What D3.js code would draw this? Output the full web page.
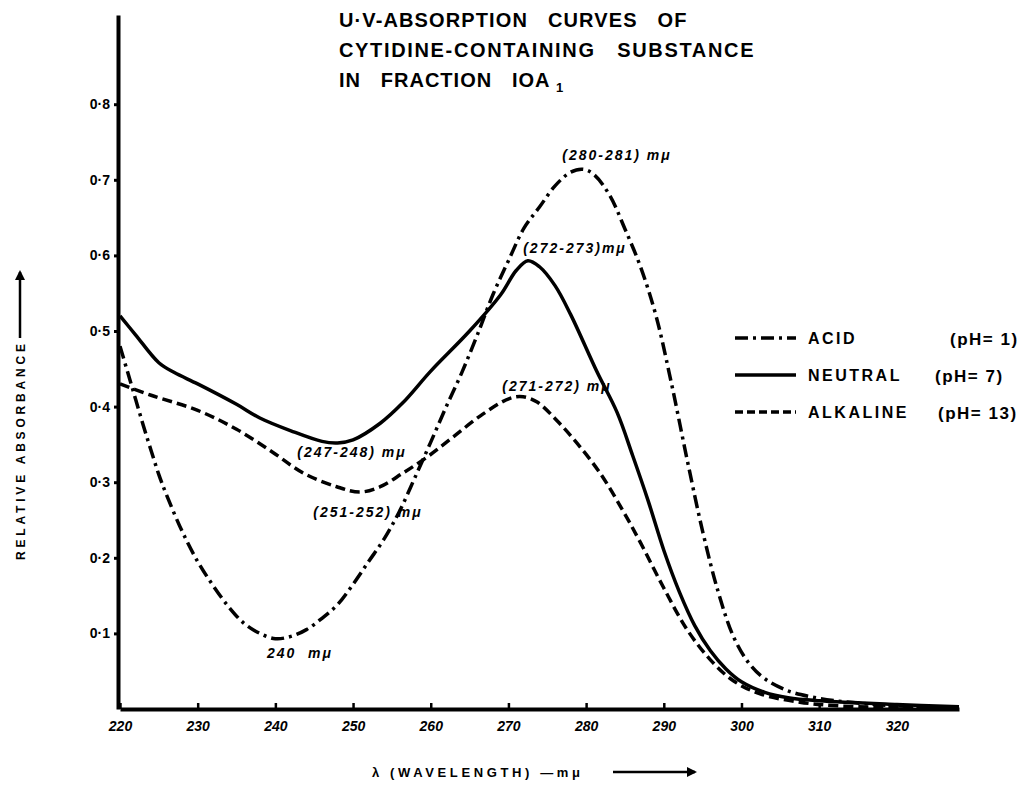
<!DOCTYPE html>
<html lang="en">

<head>
  <meta charset="utf-8">
  <title>U-V Absorption Curves of Cytidine-Containing Substance</title>
  <script src="https://d3js.org/d3.v7.min.js"></script>
  <style>
    body {
      margin: 0;
      background: #fff;
    }

    svg text {
      font-family: "Liberation Sans", Arial, sans-serif;
      fill: #000;
      white-space: pre;
    }

    .curve {
      fill: none;
      stroke: #000;
      stroke-width: 3.5px;
      stroke-linejoin: round;
    }

    .axis path,
    .axis line {
      stroke: #000;
    }

    .note {
      font-style: italic;
      font-weight: bold;
      font-size: 14px;
    }
  </style>
</head>

<body>
  <svg width="1023" height="795"></svg>

  <script>
    // wavelength (m-mu) and relative absorbance
    var acidWl = [220, 221, 222, 223, 224, 225, 226, 228, 230, 232, 234, 236, 238, 240, 242, 244, 246, 248, 250, 252,
      254, 256, 258, 260, 262, 264, 266, 268, 270, 272, 274, 276, 278, 279.6, 281, 283, 285, 287, 289, 291, 293, 295,
      297, 299, 301, 303, 306, 309, 312, 316, 320, 328];
    var acidAbs = [0.48, 0.445, 0.41, 0.375, 0.342, 0.31, 0.283, 0.235, 0.195, 0.163, 0.135, 0.113, 0.1, 0.093, 0.096,
      0.105, 0.12, 0.138, 0.165, 0.195, 0.225, 0.262, 0.307, 0.353, 0.4, 0.445, 0.495, 0.548, 0.593, 0.636, 0.664,
      0.692, 0.71, 0.714, 0.707, 0.68, 0.635, 0.585, 0.52, 0.43, 0.33, 0.235, 0.155, 0.095, 0.06, 0.04, 0.024, 0.016,
      0.011, 0.007, 0.004, 0.002];

    var neutralWl = [220, 222, 225, 227, 230, 235, 238, 242, 246, 248, 250, 253.5, 256.4, 260, 265, 269, 271, 272.5,
      274, 276, 278, 281.4, 284, 286, 288, 290, 292, 294, 296, 298, 300, 303, 306, 310, 320, 328];
    var neutralAbs = [0.52, 0.495, 0.458, 0.445, 0.43, 0.403, 0.385, 0.368, 0.354, 0.352, 0.356, 0.378, 0.405, 0.447,
      0.5, 0.548, 0.58, 0.593, 0.585, 0.56, 0.522, 0.446, 0.392, 0.335, 0.275, 0.21, 0.155, 0.11, 0.077, 0.053, 0.036,
      0.022, 0.015, 0.011, 0.006, 0.003];

    var alkalineWl = [220, 224, 230, 235, 239.6, 243.6, 247.9, 250.9, 253.5, 256.4, 259.5, 262.9, 266.7, 270.2, 271.9,
      273.7, 276.2, 278.8, 281.8, 284.7, 287, 290, 293, 296, 299, 302.4, 307.5, 312.7, 320, 328];
    var alkalineAbs = [0.43, 0.415, 0.395, 0.37, 0.34, 0.312, 0.294, 0.287, 0.294, 0.312, 0.333, 0.36, 0.39, 0.411,
      0.413, 0.406, 0.382, 0.352, 0.312, 0.263, 0.22, 0.16, 0.105, 0.065, 0.037, 0.02, 0.009, 0.004, 0.002, 0.001];

    var xTicks = [220, 230, 240, 250, 260, 270, 280, 290, 300, 310, 320];
    var yTicks = [0.1, 0.2, 0.3, 0.4, 0.5, 0.6, 0.7, 0.8];

    var titleLines = ["U·V-ABSORPTION   CURVES   OF", "CYTIDINE-CONTAINING   SUBSTANCE", "IN   FRACTION   IOA"];
    var legendNames = ["ACID", "NEUTRAL", "ALKALINE"];
    var legendPh = ["(pH= 1)", "(pH= 7)", "(pH= 13)"];

    // peak / trough notes: [wavelength, absorbance, text]
    var notes = [
      [280.5, 0.714, "(280-281) mμ"],
      [272.5, 0.593, "(272-273)mμ"],
      [271.5, 0.413, "(271-272) mμ"],
      [247.5, 0.352, "(247-248) mμ"],
      [251.5, 0.287, "(251-252) mμ"],
      [240, 0.093, "240  mμ"]
    ];

    var svg = d3.select("svg");

    var x = d3.scaleLinear().domain([220, 328]).range([120, 959]);
    var y = d3.scaleLinear().domain([0, 0.918]).range([709, 15]);

    // axes
    var xAxis = svg.append("g")
      .attr("class", "axis")
      .attr("transform", "translate(0,709)")
      .call(d3.axisBottom(x).tickValues(xTicks).tickSize(-6).tickSizeOuter(0).tickPadding(12)
        .tickFormat(function (d) { return d; }));
    xAxis.select(".domain").attr("stroke-width", 4);
    xAxis.selectAll(".tick line").attr("stroke-width", 2.5);
    xAxis.selectAll(".tick text")
      .style("font-size", "14px").style("font-weight", "bold").style("font-style", "italic");

    var yAxis = svg.append("g")
      .attr("class", "axis")
      .attr("transform", "translate(118,0)")
      .call(d3.axisLeft(y).tickValues(yTicks).tickSize(4).tickSizeOuter(0).tickPadding(4)
        .tickFormat(function (d) { return "0·" + Math.round(d * 10); }));
    yAxis.select(".domain").attr("stroke-width", 4);
    yAxis.selectAll(".tick line").attr("stroke-width", 3);
    yAxis.selectAll(".tick text")
      .style("font-size", "14px").style("font-weight", "bold");

    // curves
    var line = d3.line()
      .x(function (d) { return x(d[0]); })
      .y(function (d) { return y(d[1]); })
      .curve(d3.curveCatmullRom.alpha(0.5));

    var series = [
      { wl: acidWl, abs: acidAbs, dash: "13,5,3,5" },
      { wl: neutralWl, abs: neutralAbs, dash: null },
      { wl: alkalineWl, abs: alkalineAbs, dash: "10,5" }
    ];

    series.forEach(function (s) {
      var pts = s.wl.map(function (w, i) { return [w, s.abs[i]]; });
      svg.append("path")
        .attr("class", "curve")
        .attr("d", line(pts))
        .attr("stroke-dasharray", s.dash);
    });

    // notes
    var noteOffsets = [[617, 160], [575, 253], [557, 391], [352, 457], [368, 517], [300, 658]];
    svg.selectAll(".note")
      .data(notes)
      .enter().append("text")
      .attr("class", "note")
      .attr("x", function (d, i) { return noteOffsets[i][0]; })
      .attr("y", function (d, i) { return noteOffsets[i][1]; })
      .attr("text-anchor", "middle")
      .attr("letter-spacing", 2)
      .text(function (d) { return d[2]; });

    // title
    var titleWidths = [349, 416, 212];
    titleLines.forEach(function (t, i) {
      var tx = svg.append("text")
        .attr("x", 339)
        .attr("y", 27 + i * 30)
        .style("font-size", "20px")
        .style("font-weight", "bold")
        .attr("letter-spacing", 1.5)
        .attr("textLength", titleWidths[i]).attr("lengthAdjust", "spacing")
        .text(t);
      if (i === 2) {
        svg.append("text")
          .attr("x", 556).attr("y", 92)
          .style("font-size", "13px").style("font-weight", "bold")
          .text("1");
      }
    });

    // legend
    var legendY = [338, 375, 412];
    var legendDash = ["13,5,3,5", null, "8,4"];
    var phX = [950, 935, 938];
    legendNames.forEach(function (n, i) {
      svg.append("line")
        .attr("x1", 735).attr("x2", 796)
        .attr("y1", legendY[i]).attr("y2", legendY[i])
        .attr("stroke", "#000").attr("stroke-width", 3.5)
        .attr("stroke-dasharray", legendDash[i]);
      svg.append("text")
        .attr("x", 808).attr("y", legendY[i] + 6)
        .style("font-size", "16px").style("font-weight", "bold")
        .attr("letter-spacing", 2.5)
        .text(n);
      svg.append("text")
        .attr("x", phX[i]).attr("y", legendY[i] + 7)
        .style("font-size", "17px").style("font-weight", "bold")
        .attr("letter-spacing", 1.5)
        .text(legendPh[i]);
    });

    // x axis title + arrow
    svg.append("text")
      .attr("x", 372).attr("y", 777)
      .style("font-size", "13px").style("font-weight", "bold")
      .attr("textLength", 208).attr("lengthAdjust", "spacing")
      .text("λ (WAVELENGTH) —mμ");

    var defs = svg.append("defs");
    defs.append("marker")
      .attr("id", "head")
      .attr("viewBox", "0 0 10 10")
      .attr("refX", 8).attr("refY", 5)
      .attr("markerWidth", 4).attr("markerHeight", 4)
      .attr("orient", "auto")
      .append("path").attr("d", "M0,0L10,5L0,10Z").attr("fill", "#000");

    svg.append("line")
      .attr("x1", 613).attr("x2", 695).attr("y1", 772).attr("y2", 772)
      .attr("stroke", "#000").attr("stroke-width", 2.5)
      .attr("marker-end", "url(#head)");

    // y axis title + arrow
    svg.append("text")
      .attr("transform", "translate(25,560) rotate(-90)")
      .style("font-size", "12px").style("font-weight", "bold")
      .attr("textLength", 216).attr("lengthAdjust", "spacing")
      .text("RELATIVE ABSORBANCE");

    svg.append("line")
      .attr("x1", 20).attr("x2", 20).attr("y1", 338).attr("y2", 272)
      .attr("stroke", "#000").attr("stroke-width", 2.5)
      .attr("marker-end", "url(#head)");
  </script>
</body>

</html>
